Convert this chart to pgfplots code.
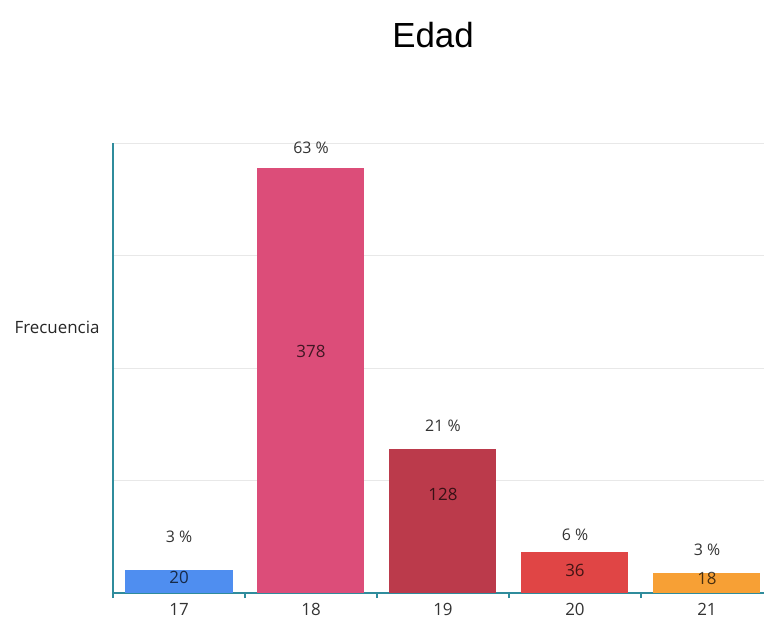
\documentclass[border=0pt]{standalone}
\usepackage{pgfplots}
\pgfplotsset{compat=1.18}
\usepackage{fontspec}
\setmainfont{Open Sans}
\newfontfamily\titlefont{Liberation Sans}
\definecolor{cA}{HTML}{4F8EF0}
\definecolor{cB}{HTML}{DC4D79}
\definecolor{cC}{HTML}{BB3A4B}
\definecolor{cD}{HTML}{E04545}
\definecolor{cE}{HTML}{F7A035}
\definecolor{axc}{HTML}{2F8C9C}
\definecolor{gridc}{HTML}{E8E8E8}
\begin{document}
\begin{tikzpicture}
\useasboundingbox (0,0) rectangle (764bp,619bp);
\node[font=\titlefont\fontsize{35}{40}\selectfont] at (433bp,584bp) {Edad};
\node[font=\fontsize{17}{20}\selectfont, text=black!85] at (57bp,292bp) {Frecuencia};
\begin{axis}[
  at={(113bp,26bp)}, anchor=south west, scale only axis,
  width=651bp, height=450bp,
  xmin=-0.5, xmax=4.432, ymin=0, ymax=400,
  axis x line*=bottom, axis y line*=left,
  axis line style={draw=axc, line width=1.2pt},
  every outer x axis line/.append style={draw=axc, line width=1.2pt},
  every outer y axis line/.append style={draw=axc, line width=1.2pt},
  xtick={0,1,2,3,4}, xticklabels={17,18,19,20,21},
  x tick label style={font=\fontsize{17}{20}\selectfont, text=black!80, yshift=-7bp},
  minor xtick={-0.5,0.5,1.5,2.5,3.5},
  xtick align=outside,
  major tick length=0pt,
  minor tick length=5bp,
  minor x tick style={draw=axc, line width=1.2pt},
  ytick={100,200,300,400}, yticklabels={},
  major y tick style={draw=none},
  ymajorgrids, grid style={gridc, line width=0.8pt},
  clip=false,
]
\addplot[ybar, bar width=107bp, bar shift=0pt, fill=cA, draw=none] coordinates {(0,20)};
\addplot[ybar, bar width=107bp, bar shift=0pt, fill=cB, draw=none] coordinates {(1,378)};
\addplot[ybar, bar width=107bp, bar shift=0pt, fill=cC, draw=none] coordinates {(2,128)};
\addplot[ybar, bar width=107bp, bar shift=0pt, fill=cD, draw=none] coordinates {(3,36)};
\addplot[ybar, bar width=107bp, bar shift=0pt, fill=cE, draw=none] coordinates {(4,18)};
% value labels inside bars
\addplot[only marks, mark=*, mark size=0pt, mark options={draw=none, fill=none},
  nodes near coords, point meta=explicit symbolic,
  every node near coord/.style={anchor=center, font=\fontsize{17}{20}\selectfont, text=black, text opacity=0.7}]
  table[meta=lab] {
x y lab
0 14 20
1 215 378
2 88 128
3 19.6 36
4 13.3 18
};
% percentage labels above bars
\addplot[only marks, mark=*, mark size=0pt, mark options={draw=none, fill=none},
  nodes near coords, point meta=explicit symbolic,
  every node near coord/.style={anchor=center, font=\fontsize{16}{19}\selectfont, text=black!80}]
  table[meta=lab, col sep=comma] {
x,y,lab
0,49.8,3 \%
1,395.6,63 \%
2,149,21 \%
3,51.6,6 \%
4,38,3 \%
};
\end{axis}
\end{tikzpicture}
\end{document}
